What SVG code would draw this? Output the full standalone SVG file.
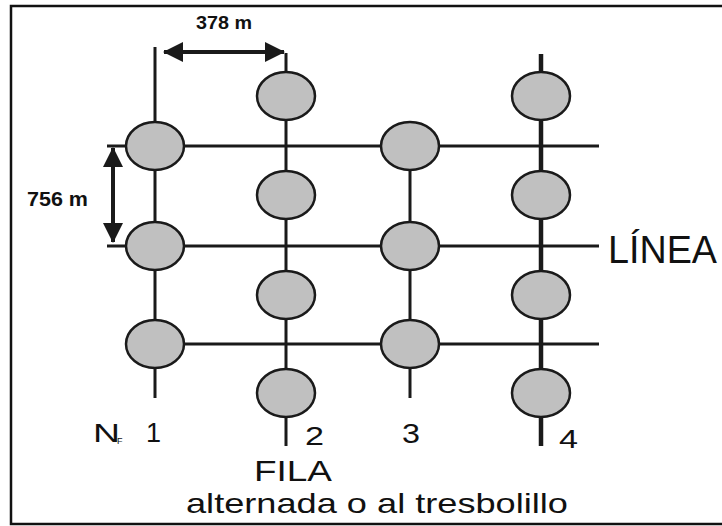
<svg xmlns="http://www.w3.org/2000/svg" width="722" height="526" viewBox="0 0 722 526">
<style>
.ln{stroke:#1a1a1a;stroke-width:3;fill:none}
.thick{stroke:#1a1a1a;stroke-width:4.5;fill:none}
.plant{fill:#c0c0c0;stroke:#1a1a1a;stroke-width:2.5}
.t{font-family:"Liberation Sans",Arial,sans-serif;fill:#111}
.b{font-family:"Liberation Sans",Arial,sans-serif;font-weight:bold;fill:#111}
</style>
<defs>
<marker id="ah" viewBox="0 0 20 20" refX="19" refY="10" markerWidth="20" markerHeight="20" markerUnits="userSpaceOnUse" orient="auto-start-reverse">
<path d="M0,0 L20,10 L0,20 Z" fill="#1a1a1a"/>
</marker>
</defs>
<rect width="722" height="526" fill="#fff"/>
<path d="M722,6 H11 V524 H722" fill="none" stroke="#111" stroke-width="2.5"/>
<g id="connectors">
<line class="ln" x1="107" y1="146" x2="599" y2="146"/>
<line class="ln" x1="107" y1="246" x2="599" y2="246"/>
<line class="ln" x1="155" y1="344" x2="599" y2="344"/>
<line class="ln" x1="155" y1="47" x2="155" y2="398"/>
<line class="ln" x1="286" y1="53" x2="286" y2="446"/>
<line class="ln" x1="410" y1="146" x2="410" y2="398"/>
<line class="thick" x1="541" y1="54" x2="541" y2="446"/>
<line x1="164" y1="52" x2="284" y2="52" stroke="#1a1a1a" stroke-width="4" marker-start="url(#ah)" marker-end="url(#ah)"/>
<line x1="113" y1="148" x2="113" y2="242" stroke="#1a1a1a" stroke-width="4" marker-start="url(#ah)" marker-end="url(#ah)"/>
</g>
<g id="col1">
<ellipse class="plant" cx="155" cy="146" rx="29" ry="24"/>
<ellipse class="plant" cx="155" cy="246" rx="29" ry="24"/>
<ellipse class="plant" cx="155" cy="344" rx="29" ry="24"/>
</g>
<g id="col2">
<ellipse class="plant" cx="286" cy="96" rx="29" ry="24"/>
<ellipse class="plant" cx="286" cy="195" rx="29" ry="24"/>
<ellipse class="plant" cx="286" cy="295" rx="29" ry="24"/>
<ellipse class="plant" cx="286" cy="393" rx="29" ry="24"/>
</g>
<g id="col3">
<ellipse class="plant" cx="410" cy="146" rx="29" ry="24"/>
<ellipse class="plant" cx="410" cy="246" rx="29" ry="24"/>
<ellipse class="plant" cx="410" cy="344" rx="29" ry="24"/>
</g>
<g id="col4">
<ellipse class="plant" cx="541" cy="96" rx="29" ry="24"/>
<ellipse class="plant" cx="541" cy="195" rx="29" ry="24"/>
<ellipse class="plant" cx="541" cy="295" rx="29" ry="24"/>
<ellipse class="plant" cx="541" cy="393" rx="29" ry="24"/>
</g>
<g id="labels">
<text class="b" x="196" y="29" font-size="19" textLength="56" lengthAdjust="spacingAndGlyphs">378 m</text>
<text class="b" x="27" y="206" font-size="20" textLength="61" lengthAdjust="spacingAndGlyphs">756 m</text>
<text class="t" x="608" y="263" font-size="38" textLength="109" lengthAdjust="spacingAndGlyphs">LÍNEA</text>
<text class="t" x="93" y="442" font-size="26" textLength="27" lengthAdjust="spacingAndGlyphs">N</text>
<text class="t" x="117" y="444" font-size="9">F</text>
<text class="t" x="146" y="442" font-size="27">1</text>
<text class="t" x="305" y="445" font-size="26" textLength="19" lengthAdjust="spacingAndGlyphs">2</text>
<text class="t" x="402" y="443" font-size="27" textLength="18" lengthAdjust="spacingAndGlyphs">3</text>
<text class="t" x="559" y="448" font-size="26" textLength="19" lengthAdjust="spacingAndGlyphs">4</text>
<text class="t" x="254" y="481" font-size="29" textLength="78" lengthAdjust="spacingAndGlyphs">FILA</text>
<text class="t" x="186" y="513" font-size="28" textLength="382" lengthAdjust="spacingAndGlyphs">alternada o al tresbolillo</text>
</g>
</svg>
